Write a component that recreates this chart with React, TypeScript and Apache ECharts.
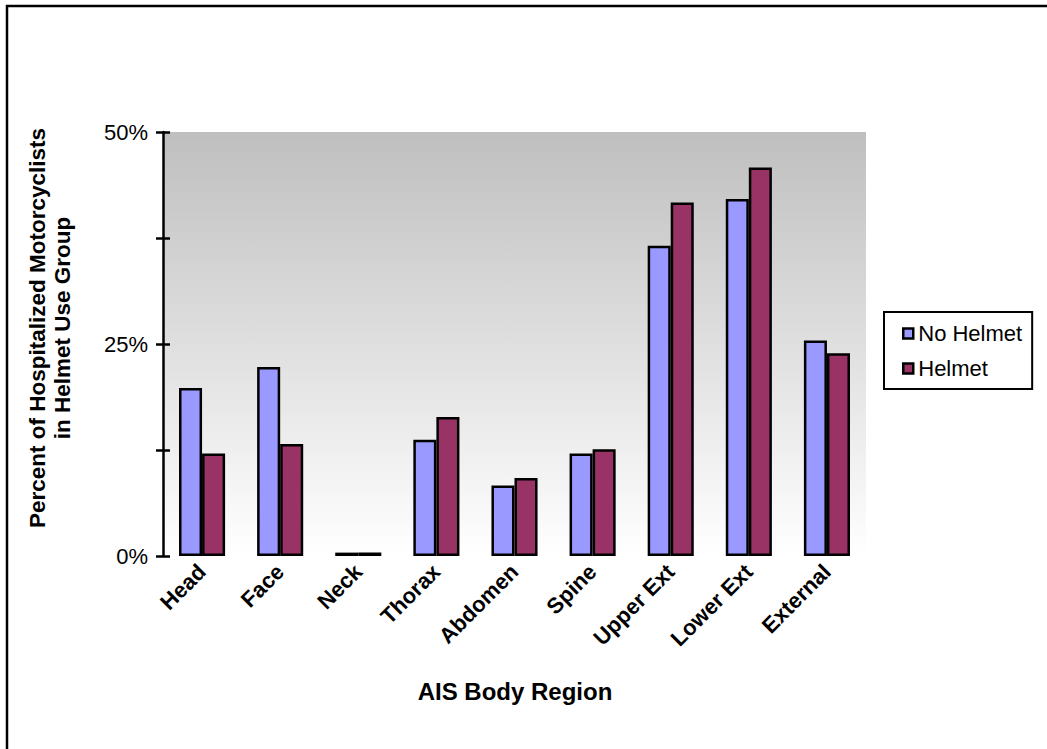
import React, { useEffect, useRef } from "react";
import * as echarts from "echarts";

const categories = ["Head", "Face", "Neck", "Thorax", "Abdomen", "Spine", "Upper Ext", "Lower Ext", "External"];
const noHelmet = [19.8, 22.3, 0.4, 13.7, 8.3, 12.1, 36.6, 42.1, 25.4];
const helmet = [12.1, 13.2, 0.4, 16.4, 9.2, 12.6, 41.7, 45.8, 23.9];
const yTicks = [0, 25, 50];

const FONT = "'Liberation Sans', Arial, sans-serif";

export default function App() {
  const ref = useRef<HTMLDivElement>(null);
  useEffect(() => {
    if (!ref.current) return;
    const chart = echarts.init(ref.current, null, { renderer: "svg" });
    const yCommon = {
      type: "value",
      min: 0,
      max: 50,
      interval: 12.5,
      splitLine: { show: false },
    };
    chart.setOption({
      animation: false,
      backgroundColor: "#ffffff",
      textStyle: { fontFamily: FONT },
      grid: {
        left: 163,
        top: 132,
        width: 703,
        height: 424,
        containLabel: false,
        outerBoundsMode: "none",
        show: true,
        borderWidth: 0,
        backgroundColor: new echarts.graphic.LinearGradient(0, 0, 0, 1, [
          { offset: 0, color: "#bfbfbf" },
          { offset: 1, color: "#ffffff" },
        ]),
      },
      legend: {
        orient: "vertical",
        left: 884,
        top: 312,
        padding: [10, 10, 9, 18],
        itemGap: 12,
        itemWidth: 10,
        itemHeight: 10,
        icon: "rect",
        borderColor: "#000",
        borderWidth: 2,
        backgroundColor: "#ffffff",
        data: ["No Helmet", "Helmet"],
        itemStyle: { borderColor: "#000", borderWidth: 2.5 },
        textStyle: { fontFamily: FONT, fontSize: 22, color: "#000", lineHeight: 23 },
      },
      xAxis: {
        type: "category",
        data: categories,
        axisLine: { show: false },
        axisTick: { show: false },
        axisLabel: {
          interval: 0,
          rotate: 45,
          margin: 12,
          color: "#000",
          fontWeight: "bold",
          fontSize: 22,
          fontFamily: FONT,
        },
      },
      yAxis: [
        {
          ...yCommon,
          position: "left",
          axisLine: { show: true, lineStyle: { color: "#000", width: 2.5 } },
          axisTick: { show: true, length: 7, inside: false, lineStyle: { color: "#000", width: 2.5 } },
          axisLabel: {
            margin: 15,
            color: "#000",
            fontSize: 22,
            fontFamily: FONT,
            formatter: (v: number) => (yTicks.includes(v) ? v + "%" : ""),
          },
        },
        {
          ...yCommon,
          position: "left",
          axisLine: { show: false },
          axisTick: { show: true, length: 7, inside: true, lineStyle: { color: "#000", width: 2.5 } },
          axisLabel: { show: false },
        },
      ],
      series: [
        {
          name: "No Helmet",
          type: "bar",
          data: noHelmet,
          yAxisIndex: 0,
          barGap: "0%",
          barCategoryGap: "41%",
          itemStyle: { color: "#9999ff", borderColor: "#000", borderWidth: 2.5 },
        },
        {
          name: "Helmet",
          type: "bar",
          data: helmet,
          yAxisIndex: 0,
          barGap: "0%",
          barCategoryGap: "41%",
          itemStyle: { color: "#993366", borderColor: "#000", borderWidth: 2.5 },
        },
      ],
      graphic: [
        {
          type: "rect",
          shape: { x: 7, y: 6, width: 1060, height: 760 },
          style: { fill: "none", stroke: "#000", lineWidth: 2.5 },
          silent: true,
        },
        {
          type: "text",
          x: 37,
          y: 328,
          rotation: Math.PI / 2,
          style: {
            text: "Percent of Hospitalized Motorcyclists",
            align: "center",
            verticalAlign: "middle",
            fill: "#000",
            font: `bold 22.5px ${FONT}`,
          },
        },
        {
          type: "text",
          x: 62,
          y: 328,
          rotation: Math.PI / 2,
          style: {
            text: "in Helmet Use Group",
            align: "center",
            verticalAlign: "middle",
            fill: "#000",
            font: `bold 22.5px ${FONT}`,
          },
        },
        {
          type: "text",
          x: 515,
          y: 691,
          style: {
            text: "AIS Body Region",
            align: "center",
            verticalAlign: "middle",
            fill: "#000",
            font: `bold 24px ${FONT}`,
          },
        },
      ],
    });
    return () => chart.dispose();
  }, []);
  return (
    <div
      ref={ref}
      style={{ position: "fixed", left: 0, top: 0, width: 1047, height: 749 }}
    />
  );
}
